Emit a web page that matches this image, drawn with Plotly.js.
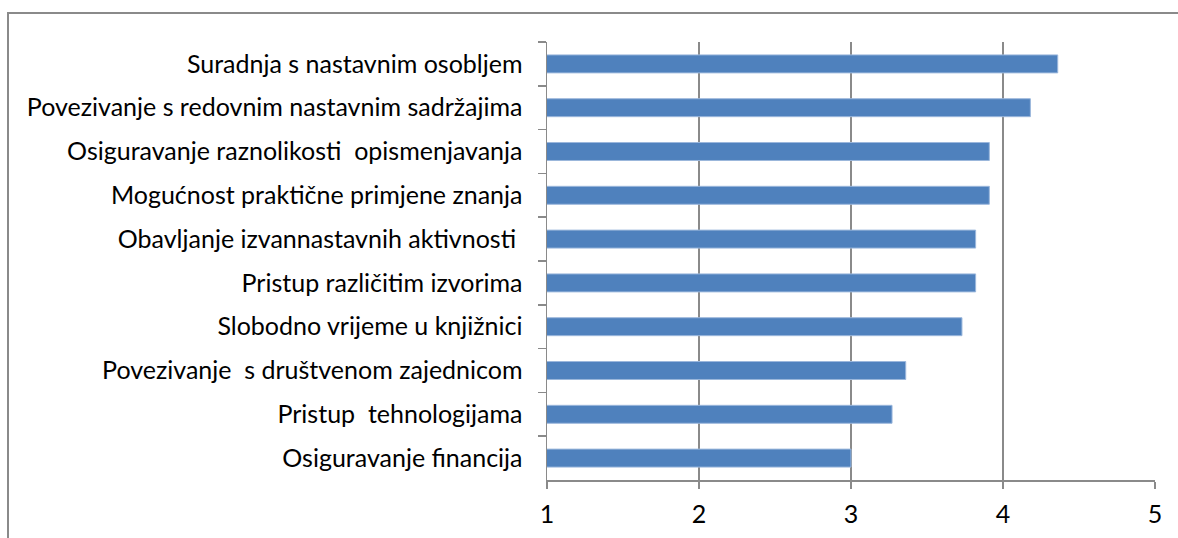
<!DOCTYPE html>
<html>
<head>
<meta charset="utf-8">
<script src="https://cdn.plot.ly/plotly-3.0.1.min.js"></script>
<style>html,body{margin:0;padding:0;background:#fff;}#chart{width:1178px;height:538px;}</style>
</head>
<body>
<div id="chart"></div>
<script>
// Categories, top to bottom
const categories = [
  "Suradnja s nastavnim osobljem",
  "Povezivanje s redovnim nastavnim sadržajima",
  "Osiguravanje raznolikosti\u00a0 opismenjavanja",
  "Mogućnost praktične primjene znanja",
  "Obavljanje izvannastavnih aktivnosti\u00a0",
  "Pristup različitim izvorima",
  "Slobodno vrijeme u knjižnici",
  "Povezivanje\u00a0 s društvenom zajednicom",
  "Pristup\u00a0 tehnologijama",
  "Osiguravanje financija"
];
const values = [4.36, 4.18, 3.91, 3.91, 3.82, 3.82, 3.73, 3.36, 3.27, 3.00];
const xTicks = [1, 2, 3, 4, 5];

const trace = {
  type: "bar",
  orientation: "h",
  x: values,
  y: categories,
  marker: { color: "#4F81BD", line: { color: "#9bb7dc", width: 1 } },
  hoverinfo: "x+y"
};

const gridColor = "#8a8a8a";
const layout = {
  width: 1178,
  height: 538,
  margin: { l: 547, r: 23, t: 42, b: 58, pad: 0 },
  paper_bgcolor: "#ffffff",
  plot_bgcolor: "#ffffff",
  showlegend: false,
  bargap: 0.59,
  font: { family: "Lato, 'Noto Sans', sans-serif", color: "#000000", size: 25 },
  xaxis: {
    range: [1, 5],
    tickvals: xTicks,
    ticktext: xTicks.map(String),
    showgrid: true,
    gridcolor: gridColor,
    gridwidth: 1.5,
    zeroline: false,
    showline: true,
    linecolor: gridColor,
    linewidth: 1.5,
    ticks: "outside",
    ticklen: 7,
    tickcolor: gridColor,
    tickwidth: 1.5,
    ticklabelstandoff: 4,
    tickfont: { size: 25 },
    fixedrange: true
  },
  yaxis: {
    type: "category",
    autorange: "reversed",
    tickson: "boundaries",
    ticks: "outside",
    ticklen: 8,
    tickcolor: gridColor,
    tickwidth: 1.5,
    showline: true,
    linecolor: gridColor,
    linewidth: 1.5,
    showgrid: false,
    zeroline: false,
    ticklabelstandoff: 18,
    tickfont: { size: 25 },
    fixedrange: true
  },
  shapes: [{
    type: "rect", xref: "paper", yref: "paper",
    x0: (8 - 547) / 608, x1: (1185 - 547) / 608,
    y0: -(545 - 480) / 438, y1: 1 + (42 - 13) / 438,
    line: { color: "#8a8a8a", width: 2 },
    layer: "below"
  }]
};

Plotly.newPlot("chart", [trace], layout, { displayModeBar: false, staticPlot: true });
</script>
</body>
</html>
